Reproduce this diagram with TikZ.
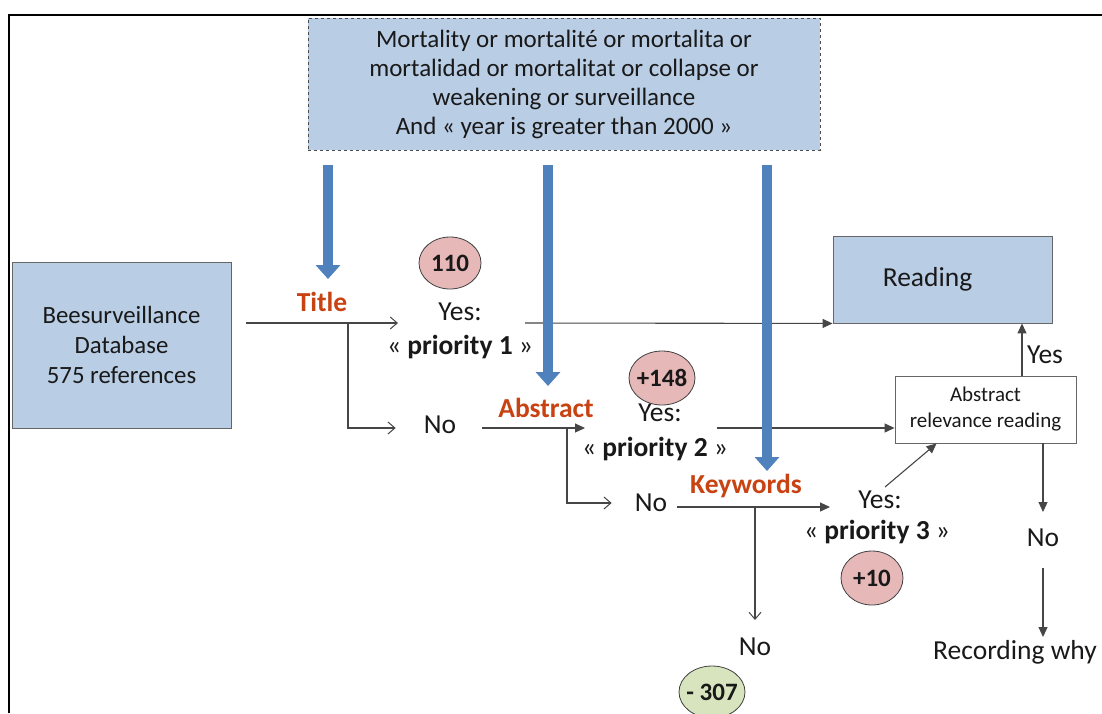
\documentclass[tikz,border=0pt]{standalone}
\usepackage{fontspec}
\setmainfont{Carlito}
\usetikzlibrary{arrows.meta,shapes.geometric,calc}
\definecolor{lblue}{RGB}{185,205,229}
\definecolor{barrow}{RGB}{79,129,189}
\definecolor{barrowd}{RGB}{60,100,150}
\definecolor{pinkc}{RGB}{230,185,184}
\definecolor{greenc}{RGB}{215,228,189}
\definecolor{redt}{RGB}{200,66,18}
\definecolor{lineg}{RGB}{70,70,70}
\definecolor{txt}{RGB}{25,25,25}
\tikzset{
  box/.style={draw=black!60, fill=lblue, line width=0.9pt, minimum width=#1, inner sep=0pt, align=center},
  lbl/.style={text=txt, font=\fontsize{27.5}{32}\selectfont, inner sep=0pt},
  red/.style={text=redt, font=\fontsize{27.5}{32}\selectfont\bfseries, inner sep=0pt},
  badge/.style={ellipse, draw=black!75, line width=0.8pt, minimum width=62pt, minimum height=52pt, inner sep=-14pt, font=\fontsize{25}{28}\selectfont\bfseries, text=txt},
  conn/.style={draw=lineg, line width=1.1pt},
  openarr/.style={conn, -{Straight Barb[length=7pt,width=12pt,line width=1pt]}},
  fillarr/.style={conn, -{Triangle[length=10pt,width=9pt]}},
  bigarr/.style={draw=barrow, line width=10pt, -{Triangle[length=14pt,width=24pt]}},
}
\begin{document}
\begin{tikzpicture}[x=1pt,y=-1pt]
\useasboundingbox (0,0) rectangle (1102,713);
\fill[white] (0,0) rectangle (1102,713);
% frame
\draw[line width=2pt, black] (9,713) -- (9,15) -- (1102,15);

% boxes
\node[box=512pt, minimum height=132pt, draw=black!70, dashed, line width=0.8pt, font=\fontsize{25}{29}\selectfont, text=txt] (query) at (564,84)
  {Mortality or mortalité or mortalita or\\mortalidad or mortalitat or collapse or\\weakening or surveillance\\And « year is greater than 2000 »};
\node[box=219pt, minimum height=166pt, font=\fontsize{24.8}{30}\selectfont, text=txt] (db) at (121.5,345)
  {Beesurveillance\\Database\\575 references};
\node[box=219pt, minimum height=87pt, font=\fontsize{27.5}{30}\selectfont, text=txt] (reading) at (942.5,279.5) {Reading\hspace*{30pt}};
\node[box=181pt, minimum height=67pt, fill=white, font=\fontsize{21}{26}\selectfont, text=txt] (arb) at (985.5,409.5)
  {Abstract\\relevance reading};

% labels
\node[red] (title) at (322,302) {Title};
\node[red] (abstract) at (546,408) {Abstract};
\node[red] (keywords) at (746,486) {Keywords};

\node[lbl] (yes1) at (460,312) {Yes:};
\node[lbl] (pr1) at (460,347) {« \textbf{priority 1} »};
\node[lbl] (yes2) at (660,413) {Yes:};
\node[lbl] (pr2) at (655,449) {« \textbf{priority 2} »};
\node[lbl] (yes3) at (880,500) {Yes:};
\node[lbl] (pr3) at (877,532) {« \textbf{priority 3} »};
\node[lbl] (no1) at (440,425) {No};
\node[lbl] (no2) at (651,503) {No};
\node[lbl] (no3) at (755,647) {No};
\node[lbl] (yesR) at (1045,355) {Yes};
\node[lbl] (noR) at (1043,538) {No};
\node[lbl] (rec) at (1015,652) {Recording why};

\node[badge, fill=pinkc] (c110) at (450,263) {110};
\node[badge, fill=pinkc, minimum width=66pt, minimum height=54pt] (c148) at (662,378) {+148};
\node[badge, fill=pinkc, minimum height=54pt] (c10) at (872,578) {+10};
\node[badge, fill=greenc, minimum width=66pt, minimum height=52pt] (c307) at (712,692) {- 307};

% connectors
\coordinate (t0) at (246,323);
\coordinate (t1) at (398,323);
\coordinate (tb) at (348,323);
\draw[openarr] (t0) -- (t1);
\draw[openarr] (tb) |- ($(no1.west)+(-28,3)$);
\coordinate (p1) at (525,323);
\draw[fillarr] (p1) -- (reading.south west);
\coordinate (a0) at (482,428);
\coordinate (a1) at (585,428);
\coordinate (ab) at (567,428);
\draw[fillarr] (a0) -- (a1);
\draw[openarr] (ab) |- ($(no2.west)+(-23,0)$);
\coordinate (p2) at (717,428);
\draw[fillarr] (p2) -- (p2 -| arb.west);
\coordinate (k0) at (677,507);
\coordinate (k1) at (830,507);
\coordinate (kb) at (755,507);
\draw[fillarr] (k0) -- (k1);
\draw[openarr] (kb) -- (755,620);
\coordinate (p3) at (885,487);
\draw[fillarr] (p3) -- ($(arb.south west)+(42,0)$);
\draw[fillarr] (arb.north -| 1022,0) -- (reading.south -| 1022,0);
\draw[fillarr] (arb.south -| 1043,0) -- (1043,512);
\coordinate (n0) at (1043,568);
\draw[fillarr] (n0) -- (1043,637);

% big blue arrows
\coordinate (q1) at (328,165);
\coordinate (q2) at (548,165);
\coordinate (q3) at (767,165);
\draw[bigarr] (q1) -- (q1 |- 0,279);
\draw[bigarr] (q2) -- (q2 |- 0,386);
\draw[bigarr] (q3) -- (q3 |- 0,471);
\end{tikzpicture}
\end{document}
